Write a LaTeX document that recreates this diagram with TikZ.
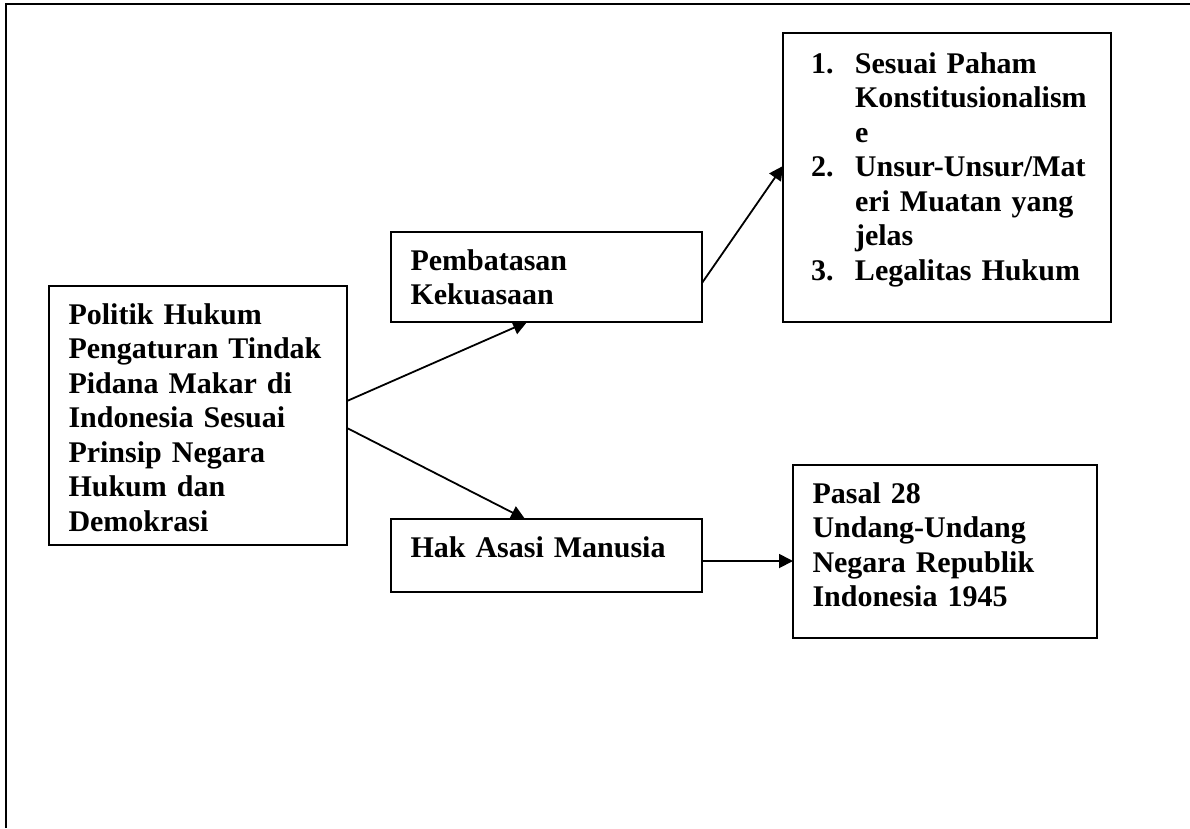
\documentclass[tikz,border=0pt]{standalone}
\usepackage{fontspec}
\setmainfont{Liberation Serif}
\usetikzlibrary{calc,arrows.meta}
\hyphenpenalty=10000
\exhyphenpenalty=10000

\begin{document}
\begin{tikzpicture}[x=1pt,y=-1pt,
    block/.style={draw,line width=2pt,outer sep=0pt,anchor=north west,align=left,inner xsep=19.5pt,inner ysep=0pt,text height=38pt,
      font=\fontsize{30}{34.5}\selectfont\bfseries},
    arrow/.style={-{Triangle[length=14pt,width=14pt]},line width=1.8pt}]
  \useasboundingbox (0,0) rectangle (1190,828);
  \draw[line width=2pt] (6,828) -- (6,4) -- (1190,4);

  \node[block,text width=259pt,text depth=221pt] (politik) at (49,286) {Politik Hukum\\Pengaturan Tindak\\Pidana Makar di\\Indonesia Sesuai\\Prinsip Negara\\Hukum dan\\Demokrasi};
  \node[block,text width=272pt,text depth=52pt] (pembatasan) at ($ (politik.north east) + (44,-54) $) {Pembatasan\\Kekuasaan};
  \node[block,text width=272pt,text depth=35pt] (ham) at ($ (pembatasan.south west) + (0,197) $) {Hak Asasi Manusia};
  \node[block,inner xsep=28pt,text width=272pt,text height=40pt,text depth=249pt] (syarat) at ($ (pembatasan.north east) + (81,-199) $) {
      \makebox[44pt][l]{1.}Sesuai Paham\\
      \hspace*{44pt}Konstitusionalism\\
      \hspace*{44pt}e\\
      \makebox[44pt][l]{2.}Unsur-Unsur/Mat\\
      \hspace*{44pt}eri Muatan yang\\
      \hspace*{44pt}jelas\\
      \makebox[44pt][l]{3.}Legalitas Hukum
    };
  \node[block,text width=265pt,text depth=135pt] (pasal) at ($ (ham.north east) + (91,-54) $) {Pasal 28\\Undang-Undang\\Negara Republik\\Indonesia 1945};

  \draw[arrow] ($ (politik.east) + (0,-14.5) $) -- ($ (pembatasan.south) + (-19.5,0) $);
  \draw[arrow] ($ (politik.east) + (0,12.5) $) -- ($ (ham.north) + (-21.5,0) $);
  \draw[arrow] ($ (pembatasan.east) + (0,6) $) -- ($ (syarat.west) + (0,-11.5) $);
  \draw[arrow] ($ (ham.east) + (0,5.5) $) -- ($ (pasal.west) + (0,9.5) $);
\end{tikzpicture}
\end{document}
